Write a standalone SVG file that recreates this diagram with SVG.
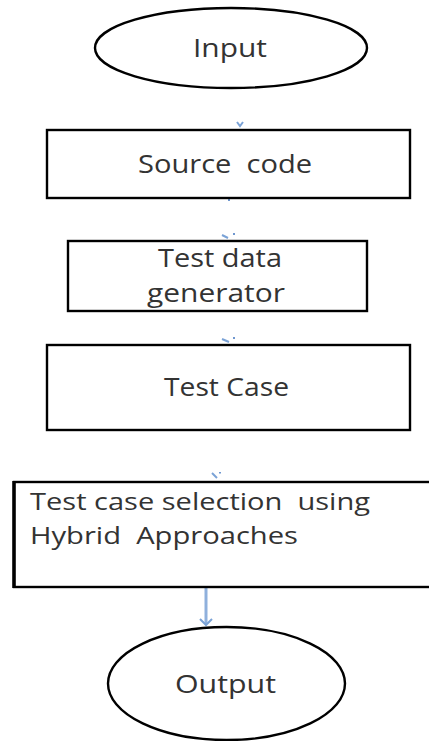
<svg xmlns="http://www.w3.org/2000/svg" width="429" height="741" viewBox="0 0 429 741">
<defs>
<style>
.shape{fill:#fff;stroke:#000;stroke-width:2.4}
.lbl{font-family:"Open Sans","Noto Sans",sans-serif;font-size:26px;fill:#333;white-space:pre}
.sm{font-size:24px}
.con{stroke:#7aa2d6;stroke-width:2;fill:none}
.dot{fill:#6f97cf}
</style>
</defs>
<rect width="429" height="741" fill="#fff"/>
<g id="connectors">
<path class="con" d="M237,122 L240,126 L243,122"/>
<rect class="dot" x="228" y="199" width="2" height="2"/>
<path class="con" d="M222,235 L228,238"/><rect class="dot" x="233" y="233" width="2" height="2"/>
<rect x="227" y="302" width="3" height="9" fill="#9ab8e0"/>
<path class="con" d="M222,339 L229,342"/><rect class="dot" x="233" y="337" width="2" height="2"/>
<path class="con" d="M212,473 L217,478"/><rect class="dot" x="219" y="472" width="2" height="1.5"/>
<line x1="206" y1="588" x2="206" y2="624" stroke="#8fb0dc" stroke-width="3"/>
<path d="M200,619 L206,625 L212,619" fill="none" stroke="#7aa2d6" stroke-width="2"/>
</g>
<g id="input">
<ellipse class="shape" cx="231" cy="48" rx="136" ry="40"/>
<text class="lbl" x="193" y="57" textLength="74" lengthAdjust="spacingAndGlyphs">Input</text>
</g>
<g id="source-code">
<rect class="shape" x="47" y="130" width="363" height="68"/>
<text class="lbl" x="138" y="173" textLength="174" lengthAdjust="spacingAndGlyphs">Source  code</text>
</g>
<g id="test-data-generator">
<rect class="shape" x="68" y="241" width="299" height="70"/>
<text class="lbl" x="158" y="267" textLength="124" lengthAdjust="spacingAndGlyphs">Test data</text>
<text class="lbl" x="147" y="302" textLength="138" lengthAdjust="spacingAndGlyphs">generator</text>
</g>
<g id="test-case">
<rect class="shape" x="47" y="345" width="363" height="85"/>
<text class="lbl" x="164" y="396" textLength="125" lengthAdjust="spacingAndGlyphs">Test Case</text>
</g>
<g id="test-case-selection">
<rect class="shape" x="14" y="482" width="430" height="105"/>
<line x1="14" y1="481" x2="14" y2="588" stroke="#000" stroke-width="3.5"/>
<text class="lbl sm" x="30" y="510" textLength="340" lengthAdjust="spacingAndGlyphs">Test case selection  using</text>
<text class="lbl sm" x="30" y="544" textLength="268" lengthAdjust="spacingAndGlyphs">Hybrid  Approaches</text>
</g>
<g id="output">
<ellipse class="shape" cx="226.5" cy="683.5" rx="118.5" ry="56.5"/>
<text class="lbl" x="175" y="693" textLength="101" lengthAdjust="spacingAndGlyphs">Output</text>
</g>
</svg>
